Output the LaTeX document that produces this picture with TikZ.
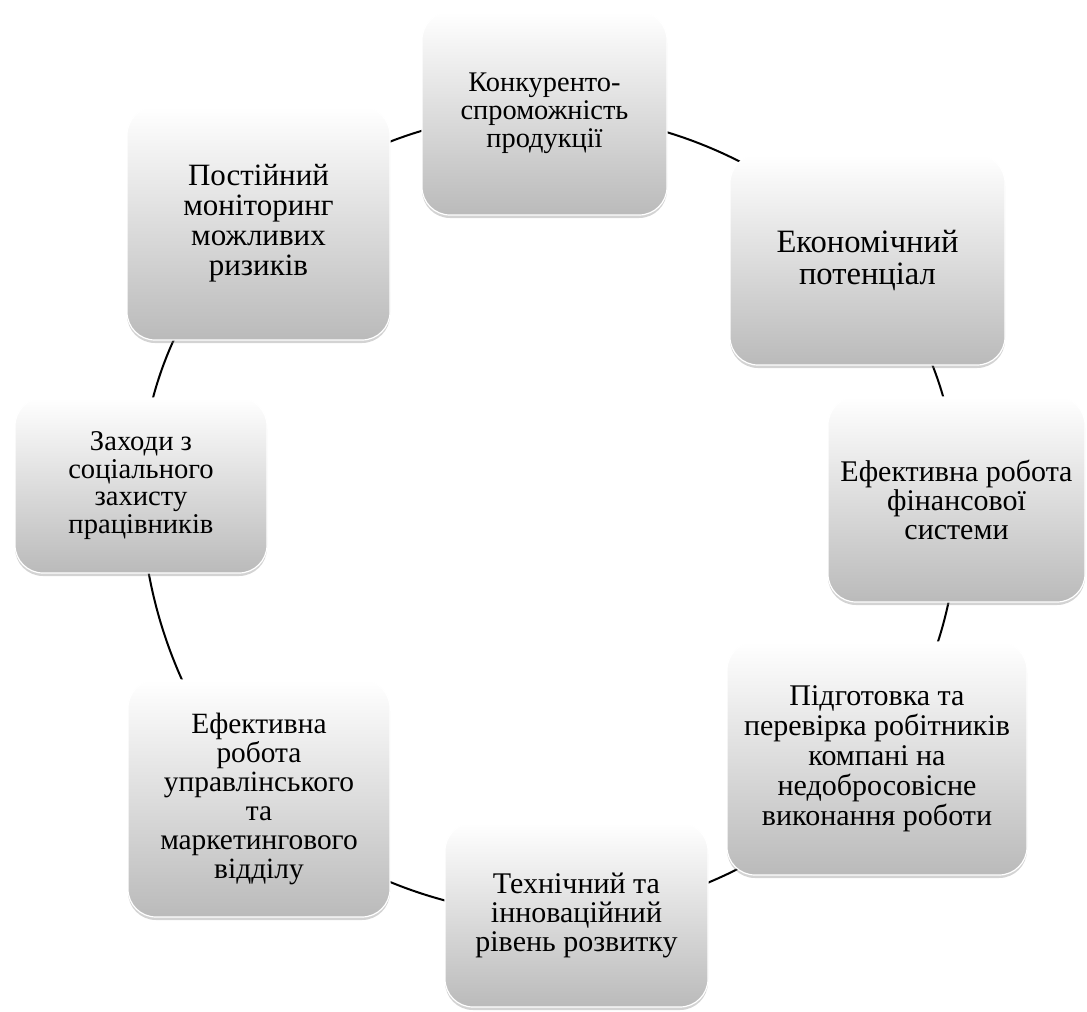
\documentclass[tikz,border=0pt]{standalone}
\usepackage{fontspec}
\setmainfont{Liberation Serif}
\usetikzlibrary{shadows,backgrounds}

\begin{document}
\begin{tikzpicture}[x=0.5pt,y=0.5pt,
    blok/.style={rounded corners=14pt,top color=white,bottom color=black!27,draw=white,line width=0.6pt,
        drop shadow={shadow xshift=0pt,shadow yshift=-1.5pt,opacity=0.35},
        align=center,inner sep=0pt,font=\fontsize{15}{15}\selectfont},
    lin/.style={line width=1pt,looseness=0.885}]
\useasboundingbox (0,0) rectangle (1087,-1012);
    \node[blok,minimum width=122.5pt,minimum height=101.5pt,font=\fontsize{14.2}{14}\selectfont] (konk) at (544.5,-113.5) {Конкуренто-\\спроможність\\продукції};
    \node[blok,minimum width=137.5pt,minimum height=105pt,font=\fontsize{16.3}{16}\selectfont] (ekon) at (867.5,-260) {Економічний\\потенціал};
    \node[blok,minimum width=128.5pt,minimum height=102.5pt,font=\fontsize{15}{14.5}\selectfont] (fin) at (956.5,-499.5) {Ефективна робота\\фінансової\\системи};
    \node[blok,minimum width=150pt,minimum height=116.5pt] (pidg) at (877,-758.5) {Підготовка та\\перевірка робітників\\компані на\\недобросовісне\\виконання роботи};
    \node[blok,minimum width=131.5pt,minimum height=92pt,font=\fontsize{15}{14.5}\selectfont] (tekh) at (576.5,-915) {Технічний та\\інноваційний\\рівень розвитку};
    \node[blok,minimum width=131pt,minimum height=118.5pt,font=\fontsize{14.7}{14.5}\selectfont] (upr) at (259,-798.5) {Ефективна\\робота\\управлінського\\та\\маркетингового\\відділу};
    \node[blok,minimum width=126pt,minimum height=87.5pt,font=\fontsize{14.3}{13.8}\selectfont] (zakh) at (141,-485.5) {Заходи з\\соціального\\захисту\\працівників};
    \node[blok,minimum width=131.5pt,minimum height=116.5pt,font=\fontsize{15.5}{15}\selectfont] (monit) at (258.5,-223.5) {Постійний\\моніторинг\\можливих\\ризиків};
\begin{scope}[on background layer]
    \draw[lin] (konk.center) to[bend left=24] (ekon.center);
    \draw[lin] (ekon.center) to[bend left=21.5] (fin.center);
    \draw[lin] (fin.center) to[bend left=20] (pidg.center);
    \draw[lin] (pidg.center) to[bend left=22.5] (tekh.center);
    \draw[lin] (tekh.center) to[bend left=22.5] (upr.center);
    \draw[lin] (upr.center) to[bend left=21] (zakh.center);
    \draw[lin] (zakh.center) to[bend left=23.5] (monit.center);
    \draw[lin] (monit.center) to[bend left=21.5] (konk.center);
\end{scope}
\end{tikzpicture}
\end{document}
